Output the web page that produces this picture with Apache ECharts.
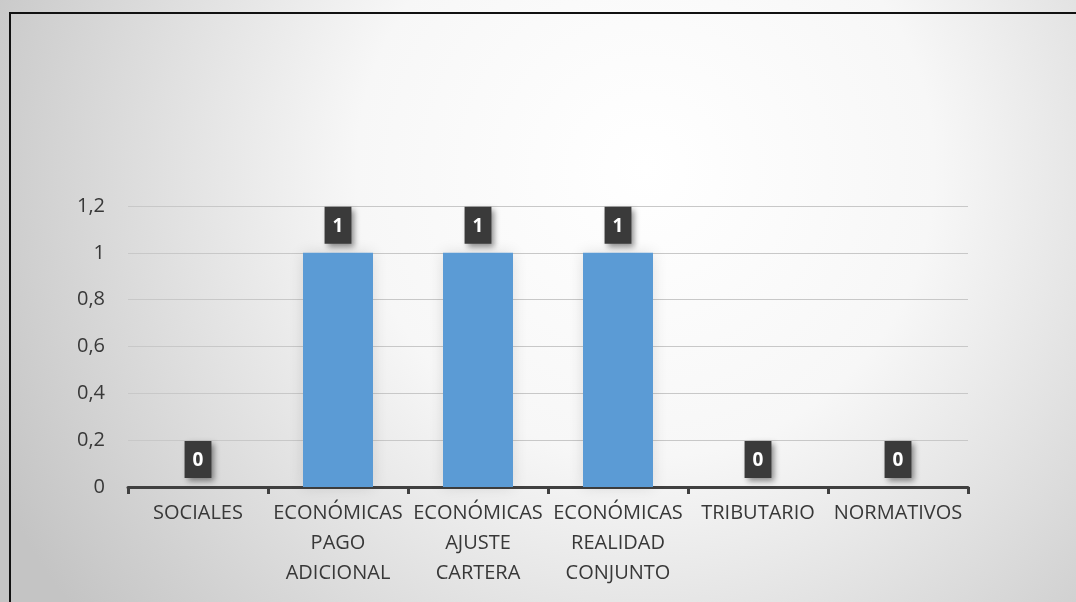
<!DOCTYPE html>
<html>
<head>
<meta charset="utf-8">
<script src="https://cdn.jsdelivr.net/npm/echarts@6/dist/echarts.min.js"></script>
<style>
  html, body { margin: 0; padding: 0; background: #fff; }
  #main { width: 1076px; height: 602px; }
  .frame {
    position: absolute; left: 9px; top: 12px; right: 0; bottom: 0;
    border-left: 2px solid #111; border-top: 2px solid #111;
    pointer-events: none;
  }
</style>
</head>
<body>
<div id="main"></div>
<div class="frame"></div>
<script>
const categories = [
  'SOCIALES',
  'ECONÓMICAS\nPAGO\nADICIONAL',
  'ECONÓMICAS\nAJUSTE\nCARTERA',
  'ECONÓMICAS\nREALIDAD\nCONJUNTO',
  'TRIBUTARIO',
  'NORMATIVOS'
];
const values = [0, 1, 1, 1, 0, 0];
const yTicks = { min: 0, max: 1.2, interval: 0.2 };

const font = '"Open Sans", sans-serif';
const chart = echarts.init(document.getElementById('main'));
chart.setOption({
  backgroundColor: {
    type: 'radial', x: 0.6, y: 0.28, r: 1.2,
    colorStops: [
      {offset: 0, color: '#ffffff'},
      {offset: 0.4, color: '#f7f7f7'},
      {offset: 1, color: '#c4c4c4'}
    ]
  },
  grid: { left: 128, right: 108, top: 206, bottom: 115 },
  xAxis: {
    type: 'category',
    data: categories,
    axisLine: { lineStyle: { color: '#404040', width: 3 } },
    axisTick: { show: true, length: 7, lineStyle: { color: '#404040', width: 3 } },
    axisLabel: {
      color: '#383838', fontSize: 20, fontFamily: font,
      lineHeight: 30, margin: 11, interval: 0
    }
  },
  yAxis: {
    type: 'value',
    min: yTicks.min, max: yTicks.max, interval: yTicks.interval,
    axisLine: { show: false },
    axisTick: { show: false },
    splitLine: { lineStyle: { color: '#c8c8c8', width: 1 } },
    axisLabel: {
      color: '#383838', fontSize: 20, fontFamily: font, margin: 23,
      formatter: v => String(+v.toFixed(1)).replace('.', ',')
    }
  },
  series: [{
    type: 'bar',
    data: values,
    barWidth: 70,
    itemStyle: {
      color: '#5b9bd5',
      shadowColor: 'rgba(0,0,0,0.12)', shadowBlur: 14
    },
    label: {
      show: true, position: 'top', distance: 9,
      color: '#fff', fontWeight: 'bold', fontSize: 19, fontFamily: font,
      backgroundColor: '#3a3a3a', padding: [10, 8, 8, 8],
      shadowColor: 'rgba(0,0,0,0.45)', shadowBlur: 6, shadowOffsetX: 3, shadowOffsetY: 3
    }
  }]
});
</script>
</body>
</html>
